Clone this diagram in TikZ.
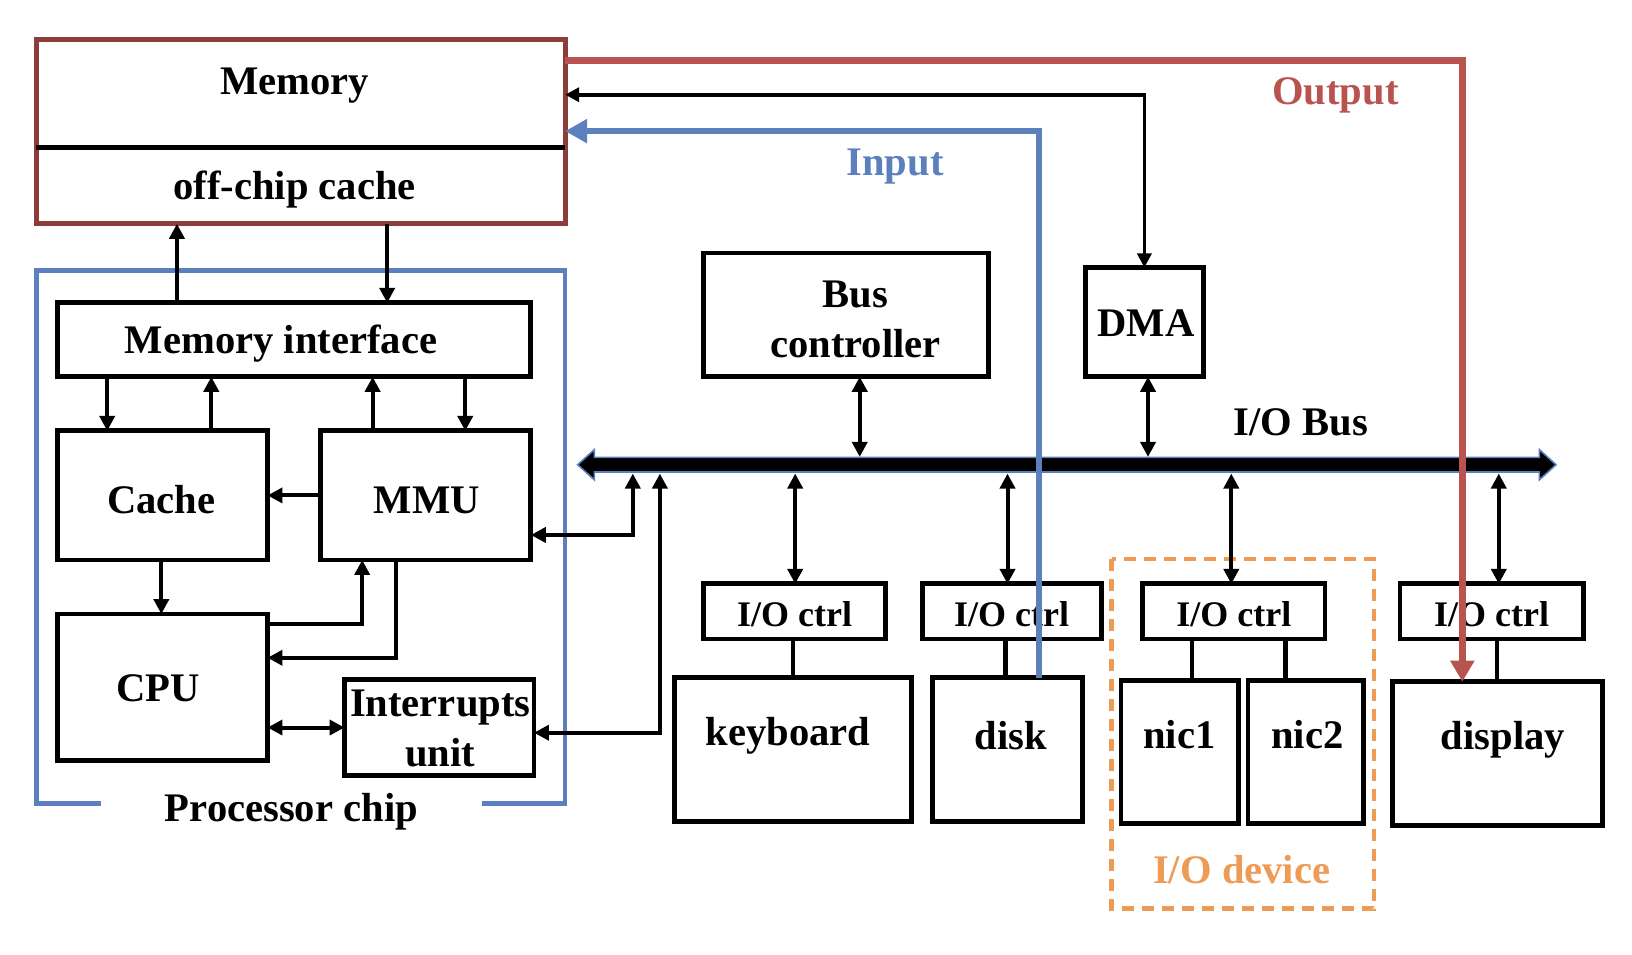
\documentclass[tikz,border=0pt]{standalone}
\usepackage{fontspec}
\setmainfont{Liberation Serif}
\usetikzlibrary{fit,arrows.meta}
\definecolor{memred}{RGB}{142,60,58}
\definecolor{outred}{RGB}{184,84,80}
\definecolor{chipblue}{RGB}{91,128,189}
\definecolor{devorange}{RGB}{238,155,85}
\begin{document}
\begin{tikzpicture}[x=0.5204pt,y=-0.5204pt,
  box/.style={draw=black,line width=2.4pt,fill=white,inner sep=0pt,outer sep=0pt},
  txt/.style={font=\bfseries\fontsize{20.3}{24.5}\selectfont,inner sep=0pt,anchor=base},
  ctxt/.style={font=\bfseries\fontsize{18}{22}\selectfont,inner sep=0pt,anchor=base},
  arr/.style={line width=2pt,-{Triangle[length=7.5pt,width=7.5pt]}},
  darr/.style={line width=2pt,{Triangle[length=7.5pt,width=7.5pt]}-{Triangle[length=7.5pt,width=7.5pt]}},
  plain/.style={line width=2.2pt},
  inp/.style={draw=chipblue,line width=3.2pt,-{Triangle[length=11pt,width=11.5pt]}},
  outp/.style={draw=outred,line width=3.2pt,-{Triangle[length=10.5pt,width=11.5pt]}}
]
\useasboundingbox (0,0) rectangle (1568,917);

% processor chip outline
\draw[chipblue,line width=2.2pt] (97,772) -- (35,772) -- (35,260) -- (543,260) -- (543,772) -- (463,772);
\node[txt] (chiplbl) at (280,789.5) {Processor chip};

% memory
\node[box,draw=memred,line width=2.6pt,fit={(35,38) (543,215)}] (mem) {};
\draw[plain,line width=2.4pt] (mem.west |- 0,142) -- (mem.east |- 0,142);
\node[txt] (memtxt) at (283,90.5) {Memory};
\node[txt] (octxt) at (283,191.5) {off-chip cache};

% processor blocks
\node[box,fit={(55,291) (510,362)}] (mi) {};
\node[txt] (mitxt) at (270,339.5) {Memory interface};
\node[box,fit={(55,414) (257,538)}] (cache) {};
\node[txt] (cachetxt) at (155,493) {Cache};
\node[box,fit={(308,414) (510,538)}] (mmu) {};
\node[txt] (mmutxt) at (410,493) {MMU};
\node[box,fit={(55,590) (257,731)}] (cpu) {};
\node[txt] (cputxt) at (152,674) {CPU};
\node[box,fit={(331,653) (513,745)}] (intr) {};
\node[txt] (intrtxta) at (423,688.5) {Interrupts};
\node[txt] (intrtxtb) at (423,736) {unit};

% bus side blocks
\node[box,fit={(676,243) (950,362)}] (bc) {};
\node[txt] (bctxta) at (822,295.5) {Bus};
\node[txt] (bctxtb) at (822,343.5) {controller};
\node[box,fit={(1043,257) (1156,362)}] (dma) {};
\node[txt] (dmatxt) at (1101,323) {DMA};

% I/O bus
\filldraw[fill=black,draw=chipblue,line width=0.8pt] (555,446.5) -- (571,432) -- (571,439.5) -- (1479,439.5) -- (1479,432) -- (1495,446.5) -- (1479,461) -- (1479,453.5) -- (571,453.5) -- (571,461) -- cycle;
\coordinate (busT) at (0,439);
\coordinate (busB) at (0,455);
\node[txt] (buslbl) at (1250,418.5) {I/O Bus};

% I/O device group
\draw[devorange,line width=2.2pt,dash pattern=on 6pt off 4pt] (1068,537) rectangle (1320,873);
\node[txt,text=devorange] (devlbl) at (1193,849) {I/O device};

% controllers
\node[box,fit={(676,561) (851,614)}] (c1) {};
\node[ctxt] (c1txt) at (763.5,602) {I/O ctrl};
\node[box,fit={(886,561) (1058,614)}] (c2) {};
\node[ctxt] (c2txt) at (972,602) {I/O ctrl};
\node[box,fit={(1098,561) (1273,614)}] (c3) {};
\node[ctxt] (c3txt) at (1185.5,602) {I/O ctrl};
\node[box,fit={(1345,561) (1521,614)}] (c4) {};
\node[ctxt] (c4txt) at (1433,602) {I/O ctrl};

% devices
\node[box,fit={(648,651) (876,789)}] (kbd) {};
\node[txt] (kbdtxt) at (757,716.5) {keyboard};
\node[box,fit={(896,651) (1040,789)}] (disk) {};
\node[txt] (disktxt) at (971,720.5) {disk};
\node[box,fit={(1077,654) (1190,791)}] (nica) {};
\node[txt] (nicatxt) at (1133,719) {nic1};
\node[box,fit={(1199,654) (1310,791)}] (nicb) {};
\node[txt] (nicbtxt) at (1256,719) {nic2};
\node[box,fit={(1338,655) (1540,793)}] (disp) {};
\node[txt] (disptxt) at (1444,720) {display};

% controller to device lines
\draw[plain] (c1.south -| 762,0) -- (kbd.north -| 762,0);
\draw[plain] (c2.south -| 966,0) -- (disk.north -| 966,0);
\draw[plain] (c3.south -| 1145,0) -- (nica.north -| 1145,0);
\draw[plain] (c3.south -| 1235,0) -- (nicb.north -| 1235,0);
\draw[plain] (c4.south -| 1438,0) -- (disp.north -| 1438,0);

% bus to controllers
\draw[darr] (busB -| 764,0) -- (c1.north -| 764,0);
\draw[darr] (busB -| 968,0) -- (c2.north -| 968,0);
\draw[darr] (busB -| 1183,0) -- (c3.north -| 1183,0);
\draw[darr] (busB -| 1440,0) -- (c4.north -| 1440,0);
\draw[darr] (bc.south -| 826,0) -- (busT -| 826,0);
\draw[darr] (dma.south -| 1103,0) -- (busT -| 1103,0);

% memory <-> memory interface
\draw[arr] (mi.north -| 170,0) -- (mem.south -| 170,0);
\draw[arr] (mem.south -| 372,0) -- (mi.north -| 372,0);

% memory interface <-> cache / mmu
\draw[arr] (mi.south -| 103,0) -- (cache.north -| 103,0);
\draw[arr] (cache.north -| 203,0) -- (mi.south -| 203,0);
\draw[arr] (mmu.north -| 358,0) -- (mi.south -| 358,0);
\draw[arr] (mi.south -| 447,0) -- (mmu.north -| 447,0);

% internal
\draw[arr] (mmu.west |- 0,476) -- (cache.east |- 0,476);
\draw[arr] (cache.south -| 155,0) -- (cpu.north -| 155,0);
\draw[arr] (cpu.east |- 0,600) -- (348,600) -- (mmu.south -| 348,0);
\draw[arr] (mmu.south -| 380,0) -- (380,632) -- (cpu.east |- 0,632);
\draw[darr] (cpu.east |- 0,699) -- (intr.west |- 0,699);

% processor to bus
\draw[darr] (mmu.east |- 0,514) -- (608,514) -- (busB -| 608,0);
\draw[darr] (intr.east |- 0,704) -- (634,704) -- (busB -| 634,0);

% DMA <-> memory
\draw[line width=1.8pt,{Triangle[length=7pt,width=7pt]}-{Triangle[length=7pt,width=7pt]}] (mem.east |- 0,91) -- (dma.north |- 0,91) -- (dma.north);

% input and output flows
\draw[inp] (disk.north -| 998,0) -- (998,126) -- (mem.east |- 0,126);
\node[txt,text=chipblue] (inlbl) at (860,169) {Input};
\draw[outp] (mem.east |- 0,58) -- (1405,58) -- (disp.north -| 1405,0);
\node[txt,text=outred] (outlbl) at (1283,100) {Output};
\end{tikzpicture}
\end{document}
